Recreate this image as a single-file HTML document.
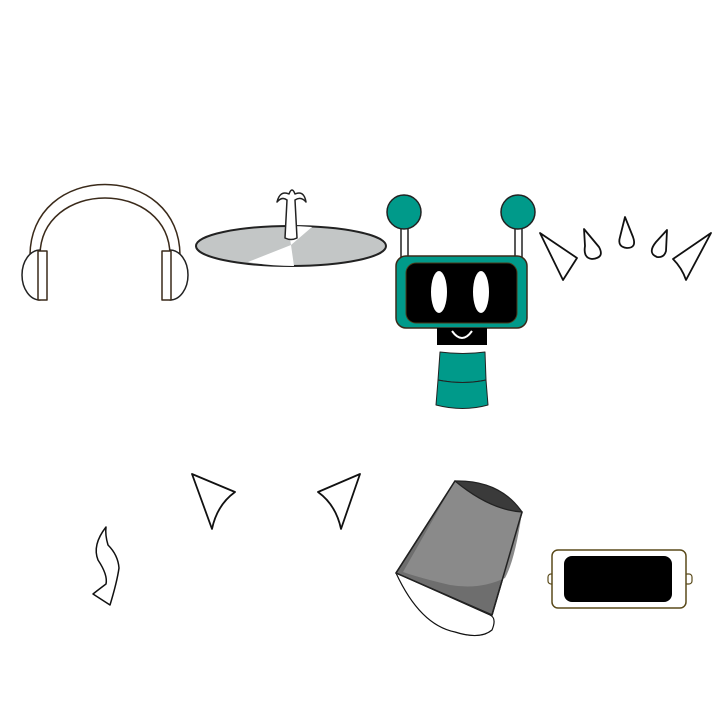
<!DOCTYPE html>
<html><head><style>html,body{margin:0;padding:0;background:#fff}svg{display:block}</style></head>
<body>
<svg width="720" height="720" viewBox="0 0 720 720" xmlns="http://www.w3.org/2000/svg" stroke-linejoin="round">
<!-- headphones -->
<path d="M30,258 C28,160 182,160 180,258 L170,258 C172,178 38,178 40,258 Z" fill="#fff" stroke="#3a2a1a" stroke-width="1.5"/>
<path d="M40,250 A18,25 0 0 0 40,300 Z" fill="#fff" stroke="#222" stroke-width="1.5"/>
<rect x="38" y="251" width="9" height="49" fill="#fff" stroke="#3a2a1a" stroke-width="1.5"/>
<path d="M170,250 A18,25 0 0 1 170,300 Z" fill="#fff" stroke="#222" stroke-width="1.5"/>
<rect x="162" y="251" width="9" height="49" fill="#fff" stroke="#3a2a1a" stroke-width="1.5"/>
<!-- cymbal -->
<ellipse cx="291" cy="246" rx="95" ry="20" fill="#c3c6c6" stroke="#222" stroke-width="2"/>
<path d="M248,262 L291,245 L294,266 Q270,266 248,262 Z" fill="#fff"/>
<path d="M291,245 L312,227 Q300,226 288,226 Z" fill="#fff"/>
<path d="M285,238 L287,200 Q282,196 277,202 Q280,190 289,194 Q292,186 295,194 Q304,190 306,202 Q301,196 295,200 L297,238 Q291,241 285,238 Z" fill="#fff" stroke="#222" stroke-width="1.5"/>
<!-- robot -->
<rect x="401" y="225" width="7" height="34" fill="#fff" stroke="#222" stroke-width="1.5"/>
<rect x="515" y="225" width="7" height="34" fill="#fff" stroke="#222" stroke-width="1.5"/>
<circle cx="404" cy="212" r="17" fill="#009a8a" stroke="#222" stroke-width="1.5"/>
<circle cx="518" cy="212" r="17" fill="#009a8a" stroke="#222" stroke-width="1.5"/>
<rect x="396" y="256" width="131" height="72" rx="10" fill="#009a8a" stroke="#3a2a1a" stroke-width="1.5"/>
<rect x="406" y="263" width="111" height="60" rx="10" fill="#000" stroke="#4a3a1a" stroke-width="1"/>
<ellipse cx="439" cy="292" rx="8" ry="21" fill="#fff"/>
<ellipse cx="481" cy="292" rx="8" ry="21" fill="#fff"/>
<rect x="437" y="328" width="50" height="17" fill="#000"/>
<path d="M452,331 Q462,345 472,331" fill="none" stroke="#fff" stroke-width="2"/>
<path d="M440,352 Q463,355 485,352 L486,380 Q463,385 438,380 Z" fill="#009a8a" stroke="#222" stroke-width="1"/>
<path d="M438,380 Q463,385 486,380 L488,405 Q463,412 436,405 Z" fill="#009a8a" stroke="#222" stroke-width="1"/>
<!-- drops -->
<g fill="#fff" stroke="#111" stroke-width="1.8">
<path d="M540,233 L577,258 L563,280 Z"/>
<path d="M584,229 L599,247 Q605,258 592,259 Q583,258 585,246 Z"/>
<path d="M625,217 L633,237 Q637,248 627,248 Q617,247 620,237 Z"/>
<path d="M667,230 L666,251 Q664,258 657,257 Q647,253 656,242 Z"/>
<path d="M711,233 L686,280 Q682,268 673,259 Z"/>
<!-- bottom triangles -->
<path d="M192,474 L235,492 Q217,505 212,529 Z"/>
<path d="M360,474 L318,492 Q336,505 341,529 Z"/>
<path d="M106,527 Q92,545 98,560 Q108,575 106,584 Q98,590 93,594 L110,605 Q117,582 119,568 Q118,555 108,545 Q105,535 106,527 Z" stroke-width="1.5"/>
</g>
<!-- bucket -->
<path d="M396,573 Q420,625 455,632 Q480,640 492,630 Q497,618 490,615 Z" fill="#fff" stroke="#111" stroke-width="1.2"/>
<path d="M455,481 L522,512 L492,615 L396,573 Z" fill="#6e6e6e" stroke="#222" stroke-width="1.5"/>
<path d="M455,481 L522,512 Q515,560 505,578 Q480,590 450,585 Q420,578 403,572 Z" fill="#8a8a8a"/>
<path d="M455,481 L522,512 L492,615 L396,573 Z" fill="none" stroke="#222" stroke-width="1.5"/>
<path d="M455,481 Q500,480 522,512 Q490,510 455,481 Z" fill="#3a3a3a" stroke="#222" stroke-width="1.2"/>
<!-- rectangle device -->
<rect x="548" y="574" width="8" height="10" rx="3" fill="#fff" stroke="#5a4a1a" stroke-width="1.2"/>
<rect x="684" y="574" width="8" height="10" rx="3" fill="#fff" stroke="#5a4a1a" stroke-width="1.2"/>
<rect x="552" y="550" width="134" height="58" rx="6" fill="#fff" stroke="#5a4a1a" stroke-width="1.5"/>
<rect x="564" y="556" width="108" height="46" rx="8" fill="#000"/>
</svg>
</body></html>
